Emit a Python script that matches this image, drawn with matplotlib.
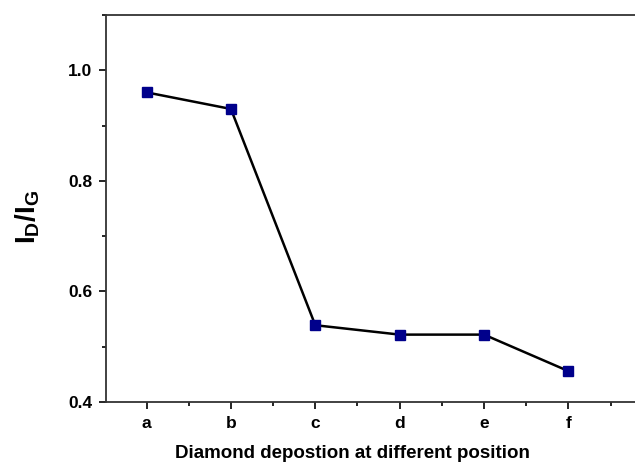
import matplotlib
matplotlib.use("Agg")
import matplotlib.pyplot as plt
from matplotlib.ticker import MultipleLocator

plt.rcParams['font.family'] = ['Liberation Sans', 'DejaVu Sans']
plt.rcParams['mathtext.fontset'] = 'custom'
plt.rcParams['mathtext.bf'] = 'Liberation Sans:bold'
plt.rcParams['mathtext.rm'] = 'Liberation Sans:bold'

positions = ['a', 'b', 'c', 'd', 'e', 'f']
ratio = [0.96, 0.93, 0.539, 0.522, 0.522, 0.456]

fig = plt.figure(figsize=(6.35, 4.67), dpi=100)
ax = fig.add_axes([0.167, 0.139, 0.861, 0.829])

x = list(range(len(positions)))
ax.plot(x, ratio, color='black', lw=1.8, marker='s', markersize=7,
        markerfacecolor='#00008B', markeredgecolor='#00008B', zorder=3)

ax.set_xlim(-0.48, 6.0)
ax.set_ylim(0.4, 1.1)
ax.set_xticks(x)
ax.set_xticklabels(positions)
ax.xaxis.set_minor_locator(MultipleLocator(0.5))
ax.yaxis.set_major_locator(MultipleLocator(0.2))
ax.yaxis.set_minor_locator(MultipleLocator(0.1))

ax.tick_params(which='major', direction='out', length=5, width=1.2,
               labelsize=12.5, pad=5)
ax.tick_params(which='minor', direction='out', length=3, width=1.2)
ax.tick_params(top=False, right=False, which='both')
for lbl in ax.get_xticklabels() + ax.get_yticklabels():
    lbl.set_fontweight('bold')

for s in ['left', 'bottom', 'top']:
    ax.spines[s].set_linewidth(1.3)
    ax.spines[s].set_color('#333333')
ax.spines['right'].set_visible(False)

ax.set_xlabel('Diamond depostion at different position', fontsize=13.5,
              fontweight='bold')
ax.set_ylabel(r'$\mathbf{I_D/I_G}$', fontsize=20)
# labels sit a bit left of the axes centre in the original
ax.xaxis.set_label_coords(0.45, -0.11)
ax.yaxis.set_label_coords(-0.117, 0.478)

fig.savefig('out.png', dpi=100)
